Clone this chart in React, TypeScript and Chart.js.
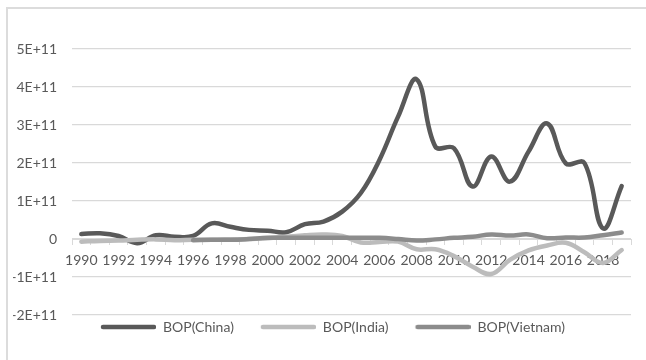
import { useEffect, useRef } from 'react';
import { Chart, registerables } from 'chart.js';

Chart.register(...registerables);

// Balance of payments, 1990–2019 (US$)
const years = [
  '1990', '1991', '1992', '1993', '1994', '1995', '1996', '1997', '1998', '1999',
  '2000', '2001', '2002', '2003', '2004', '2005', '2006', '2007', '2008', '2009',
  '2010', '2011', '2012', '2013', '2014', '2015', '2016', '2017', '2018', '2019',
];

const bopChina = [
  13e9, 15e9, 8e9, -11e9, 10e9, 6e9, 8e9, 41e9, 32e9, 24e9,
  22e9, 18e9, 39e9, 46e9, 72e9, 121e9, 208e9, 322e9, 420e9, 243e9,
  239e9, 138e9, 217e9, 151e9, 230e9, 304e9, 199e9, 200e9, 28e9, 139e9,
];

const bopIndia = [
  -7e9, -5e9, -4e9, -2e9, -1e9, -3e9, -2e9, -2e9, -1e9, 0,
  2e9, 6e9, 10e9, 12e9, 8e9, -9e9, -8e9, -7e9, -27e9, -27e9,
  -45e9, -73e9, -92e9, -55e9, -30e9, -17e9, -10e9, -35e9, -63e9, -29e9,
];

const bopVietnam = [
  null, null, null, null, null, null, -3e9, -2e9, -2e9, 0,
  3e9, 3e9, 3e9, 3e9, 3e9, 3e9, 3e9, 0, -4e9, -1e9,
  3e9, 6e9, 12e9, 9e9, 12e9, 2e9, 4e9, 4e9, 10e9, 17e9,
];

const seriesLabels = ['BOP(China)', 'BOP(India)', 'BOP(Vietnam)'];
const seriesColors = ['#595959', '#bcbcbc', '#8c8c8c'];

const yMin = -2e11;
const yMax = 5e11;
const yStep = 1e11;

const FONT = 'Lato, "Open Sans", sans-serif';
const TEXT_COLOR = '#595959';
const GRID_COLOR = '#d9d9d9';

// legend swatch: a leading gap followed by a short thick rounded line
function legendSwatch(color: string): HTMLCanvasElement {
  const c = document.createElement('canvas');
  c.width = 77;
  c.height = 6;
  const ctx = c.getContext('2d')!;
  ctx.strokeStyle = color;
  ctx.lineWidth = 4.5;
  ctx.lineCap = 'round';
  ctx.beginPath();
  ctx.moveTo(24, 3);
  ctx.lineTo(75, 3);
  ctx.stroke();
  return c;
}

function formatTick(v: number): string {
  if (v === 0) return '0';
  return `${Math.round(v / 1e11)}E+11`;
}

export default function App() {
  const canvasRef = useRef<HTMLCanvasElement | null>(null);

  useEffect(() => {
    if (!canvasRef.current) return;
    const seriesData = [bopChina, bopIndia, bopVietnam];
    const swatches = seriesColors.map(legendSwatch);

    const chart = new Chart(canvasRef.current, {
      type: 'line',
      data: {
        labels: years,
        datasets: seriesData.map((d, i) => ({
          label: seriesLabels[i],
          data: d,
          borderColor: seriesColors[i],
          backgroundColor: seriesColors[i],
          borderWidth: 4.5,
          borderCapStyle: 'round',
          borderJoinStyle: 'round',
          pointRadius: 0,
          pointHoverRadius: 0,
          tension: 0.4,
          fill: false,
          spanGaps: false,
          order: seriesData.length - i,
        })),
      },
      options: {
        responsive: false,
        animation: false,
        layout: { padding: { left: 13, right: 15, top: 49, bottom: 16 } },
        plugins: {
          tooltip: { enabled: false },
          legend: {
            position: 'bottom',
            labels: {
              usePointStyle: true,
              pointStyleWidth: 77,
              boxHeight: 6,
              padding: 5,
              color: TEXT_COLOR,
              font: { family: FONT, size: 14 },
              generateLabels: () =>
                seriesLabels.map((text, i) => ({
                  text,
                  pointStyle: swatches[i],
                  fillStyle: seriesColors[i],
                  strokeStyle: seriesColors[i],
                  lineWidth: 0,
                  hidden: false,
                  datasetIndex: i,
                  fontColor: TEXT_COLOR,
                })),
            },
          },
        },
        scales: {
          x: {
            type: 'category',
            position: { y: 0 },
            offset: true,
            grid: {
              display: true,
              drawOnChartArea: false,
              drawTicks: true,
              tickLength: 5,
              offset: true,
              color: GRID_COLOR,
            },
            border: { display: true, color: GRID_COLOR, width: 1 },
            ticks: {
              autoSkip: false,
              maxRotation: 0,
              minRotation: 0,
              padding: 8,
              color: TEXT_COLOR,
              font: { family: FONT, size: 14 },
              callback: (_v: any, idx: number) => (idx % 2 === 0 ? years[idx] : ''),
            },
          },
          y: {
            min: yMin,
            max: yMax,
            grid: { color: GRID_COLOR, lineWidth: 1.3, drawTicks: false },
            border: { display: false },
            afterFit: (scale: any) => {
              scale.width = 59;
            },
            ticks: {
              stepSize: yStep,
              padding: 15,
              color: TEXT_COLOR,
              font: { family: FONT, size: 14 },
              callback: (v: any) => formatTick(Number(v)),
            },
          },
        },
      },
    } as any);

    return () => chart.destroy();
  }, []);

  return (
    <div
      style={{
        position: 'fixed',
        left: 0,
        top: 0,
        width: 646,
        height: 360,
        overflow: 'hidden',
        background: '#ffffff',
      }}
    >
      <canvas ref={canvasRef} width={646} height={360} style={{ display: 'block' }} />
      <div
        style={{
          position: 'absolute',
          left: 6,
          top: 7,
          width: 700,
          height: 400,
          border: '2px solid #dcdcdc',
          pointerEvents: 'none',
        }}
      />
    </div>
  );
}
